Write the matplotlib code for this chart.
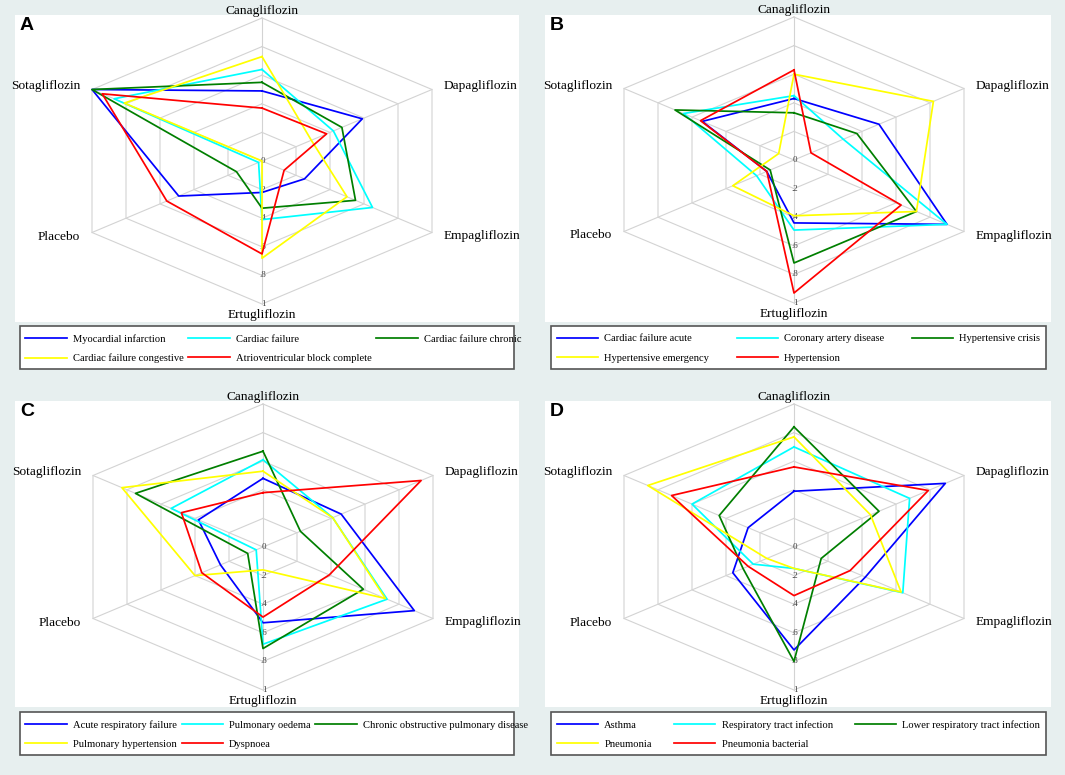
import numpy as np
import matplotlib.pyplot as plt
from matplotlib.lines import Line2D
from matplotlib.patches import Rectangle

plt.rcParams['font.family'] = ['Liberation Serif', 'DejaVu Serif']

W, H = 1065, 775

drugs = ['Canagliflozin', 'Dapagliflozin', 'Empagliflozin',
         'Ertugliflozin', 'Placebo', 'Sotagliflozin']
angles = np.deg2rad([90, 30, -30, -90, -150, 150])
colors = ['#0000ff', '#00ffff', '#007f00', '#ffff00', '#ff0000']
rings = [0.2, 0.4, 0.6, 0.8, 1.0]
ring_labels = ['0', '.2', '.4', '.6', '.8', '1']

# values in drug order: Cana, Dapa, Empa, Ertu, Placebo, Sota
labels_a = ['Myocardial infarction', 'Cardiac failure', 'Cardiac failure chronic',
            'Cardiac failure congestive', 'Atrioventricular block complete']
values_a = [[0.49, 0.59, 0.25, 0.22, 0.49, 1.00],
            [0.64, 0.42, 0.65, 0.41, 0.02, 0.87],
            [0.55, 0.47, 0.55, 0.33, 0.15, 1.00],
            [0.73, 0.29, 0.50, 0.68, 0.00, 0.81],
            [0.37, 0.38, 0.13, 0.65, 0.56, 0.94]]

labels_b = ['Cardiac failure acute', 'Coronary artery disease', 'Hypertensive crisis',
            'Hypertensive emergency', 'Hypertension']
values_b = [[0.43, 0.50, 0.90, 0.44, 0.16, 0.54],
            [0.45, 0.29, 0.90, 0.49, 0.22, 0.65],
            [0.33, 0.37, 0.72, 0.72, 0.14, 0.70],
            [0.60, 0.82, 0.72, 0.39, 0.36, 0.09],
            [0.63, 0.10, 0.63, 0.93, 0.16, 0.55]]

labels_c = ['Acute respiratory failure', 'Pulmonary oedema',
            'Chronic obstructive pulmonary disease',
            'Pulmonary hypertension', 'Dyspnoea']
values_c = [[0.48, 0.46, 0.89, 0.53, 0.25, 0.38],
            [0.61, 0.41, 0.73, 0.68, 0.04, 0.54],
            [0.67, 0.22, 0.59, 0.71, 0.09, 0.75],
            [0.53, 0.41, 0.72, 0.16, 0.40, 0.83],
            [0.38, 0.93, 0.39, 0.49, 0.36, 0.48]]

labels_d = ['Asthma', 'Respiratory tract infection', 'Lower respiratory tract infection',
            'Pneumonia', 'Pneumonia bacterial']
values_d = [[0.39, 0.89, 0.42, 0.72, 0.36, 0.27],
            [0.70, 0.68, 0.64, 0.15, 0.24, 0.60],
            [0.84, 0.50, 0.16, 0.80, 0.30, 0.44],
            [0.77, 0.45, 0.63, 0.15, 0.16, 0.86],
            [0.56, 0.79, 0.33, 0.34, 0.27, 0.72]]

# panel boxes in pixels: plot area (x0, y0, x1, y1), centre (cx, cy), legend box,
# and whether the legend columns are spread over the box (long labels overflow it)
panels = [
    ('A', labels_a, values_a, (15, 15, 519, 322), (262, 161), (19.6, 326, 514, 369), False),
    ('B', labels_b, values_b, (545, 15, 1051, 322), (794, 160), (551, 326, 1046, 369), True),
    ('C', labels_c, values_c, (15, 401, 519, 707), (263, 547), (19.6, 712, 514, 755), False),
    ('D', labels_d, values_d, (545, 401, 1051, 707), (794, 547), (551, 712, 1046, 755), True),
]

# pixels per data unit (the hexagon is stretched sideways)
px_x = 170 / np.cos(np.deg2rad(30))
px_y = 143

label_offsets = [(0, 1, 'center', 'bottom'), (12, 3, 'left', 'center'),
                 (12, -4, 'left', 'center'), (0, -5, 'center', 'top'),
                 (-12, -4, 'right', 'center'), (-11, 3, 'right', 'center')]

# legend is filled column by column; this order gives rows 1-2-3 / 4-5
legend_order = [0, 3, 1, 4, 2]

fig = plt.figure(figsize=(W / 100, H / 100), dpi=100, facecolor='#e7efef')

for letter, labels, values, box, centre, lbox, spread in panels:
    x0, y0, x1, y1 = box
    cx, cy = centre
    ax = fig.add_axes([x0 / W, 1 - y1 / H, (x1 - x0) / W, (y1 - y0) / H])
    ax.set_facecolor('white')
    ax.set_xlim(-(cx - x0) / px_x, (x1 - cx) / px_x)
    ax.set_ylim(-(y1 - cy) / px_y, (cy - y0) / px_y)
    ax.set_xticks([])
    ax.set_yticks([])
    for s in ax.spines.values():
        s.set_visible(False)

    ca = np.append(angles, angles[0])
    for r in rings:
        ax.plot(r * np.cos(ca), r * np.sin(ca), color='#d3d3d3', lw=0.8, zorder=1)
    for a in angles:
        ax.plot([0, np.cos(a)], [0, np.sin(a)], color='#d3d3d3', lw=0.8, zorder=1)
    for r, t in zip([0] + rings, ring_labels):
        ax.annotate(t, (0, -r), xytext=(1, 0), textcoords='offset pixels',
                    ha='center', va='center', fontsize=6.5, color='#444444', zorder=2)

    for name, a, (dx, dy, ha, va) in zip(drugs, angles, label_offsets):
        ax.annotate(name, (np.cos(a), np.sin(a)), xytext=(dx, dy),
                    textcoords='offset pixels', ha=ha, va=va, fontsize=9.6,
                    annotation_clip=False, zorder=2)

    handles = []
    for vals, c in zip(values, colors):
        v = np.append(vals, vals[0])
        ax.plot(v * np.cos(ca), v * np.sin(ca), color=c, lw=1.25, zorder=3)
        handles.append(Line2D([], [], color=c, lw=1.25))

    fig.text((x0 + 5) / W, 1 - (y0 + 2) / H, letter, ha='left', va='top',
             fontsize=14, fontweight='bold', family='Liberation Sans')

    lx0, ly0, lx1, ly1 = lbox
    fig.patches.append(Rectangle((lx0 / W, 1 - ly1 / H), (lx1 - lx0) / W, (ly1 - ly0) / H,
                                 transform=fig.transFigure, facecolor='white',
                                 edgecolor='#555555', lw=1.2, zorder=0))
    fig.legend([handles[i] for i in legend_order],
               [labels[i] for i in legend_order],
               loc='upper left', ncol=3, mode='expand' if spread else None,
               bbox_to_anchor=(lx0 / W, 1 - (ly0 + 2) / H, (lx1 - lx0) / W, 0),
               borderaxespad=0, fontsize=7.6, handlelength=3.9,
               handletextpad=0.6, columnspacing=0.45, labelspacing=0.95,
               borderpad=0.55, frameon=False)

fig.savefig('out.png', dpi=100, facecolor=fig.get_facecolor())
